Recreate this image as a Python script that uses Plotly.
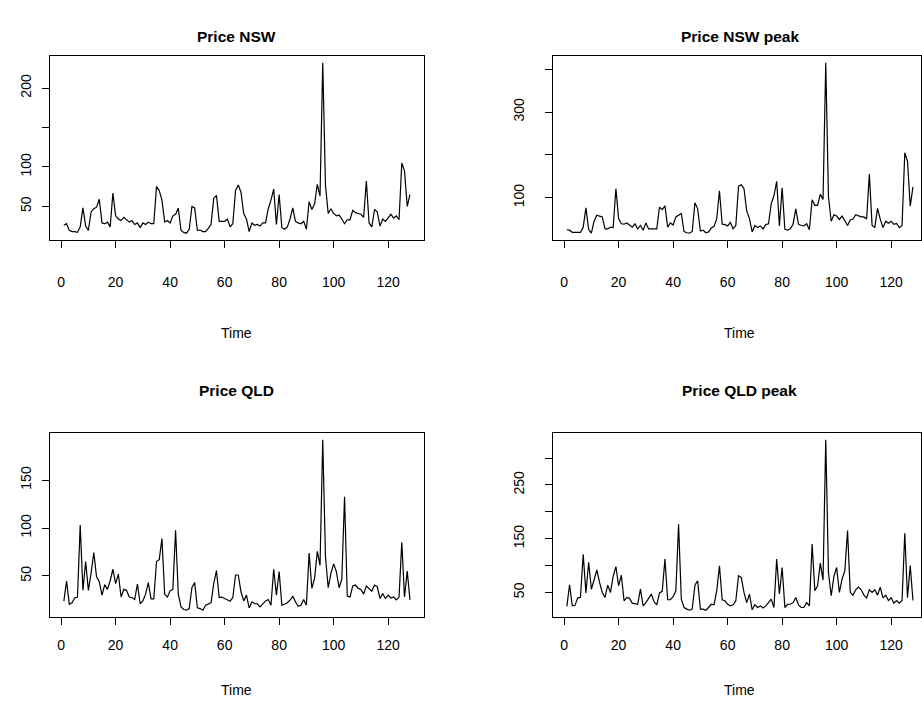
import plotly.graph_objects as go

W, H = 922, 704
time = list(range(1, 129))

price_nsw = [26, 28, 19.5, 18, 18, 17, 24, 48, 25, 19.5, 43, 47, 49, 59, 29, 28, 30, 24, 67, 38,
             34, 32, 36, 33, 30, 32, 27, 29, 23, 29, 27, 30, 28, 28, 75, 70, 58, 30, 32, 29,
             38, 40, 48, 19.5, 17, 16, 21, 50, 48, 19.5, 20, 18, 18, 22, 27, 60, 64, 31, 31, 31,
             34, 24, 28, 70, 77, 68, 41, 34, 18, 29, 26, 27, 25, 29, 29, 47, 58, 72, 27, 65,
             23, 21, 24, 34, 48, 31, 29, 28, 31, 21, 56, 46, 53, 78, 63, 232, 77, 41, 47, 41,
             38, 39, 34, 28, 33, 33, 45, 42, 41, 40, 36, 82, 29, 24, 46, 43, 25, 34, 31, 35,
             40, 35, 38, 33, 105, 95, 50, 65]

price_nsw_peak = [25, 24, 19, 19, 19, 19, 31, 76, 26, 17, 45, 59, 57, 55, 27, 27, 31, 30, 121, 51,
                  39, 38, 41, 35, 31, 39, 27, 35, 24, 41, 27, 27, 27, 27, 78, 72, 81, 31, 41, 36,
                  55, 59, 63, 21, 18, 17, 21, 88, 74, 22, 24, 18, 20, 29, 33, 51, 116, 38, 37, 34,
                  42, 27, 35, 127, 130, 121, 69, 51, 20, 35, 30, 34, 27, 37, 39, 86, 105, 138, 34, 123,
                  26, 24, 27, 38, 74, 38, 35, 34, 39, 25, 95, 82, 82, 108, 96, 415, 102, 45, 60, 57,
                  49, 57, 47, 35, 48, 50, 60, 58, 55, 55, 50, 155, 35, 30, 75, 50, 30, 45, 40, 45,
                  38, 40, 30, 35, 205, 185, 80, 125]

price_qld = [23.7, 44.7, 20.5, 22, 27, 28, 103, 35, 65, 35, 53, 74.5, 49, 44, 30, 41, 36, 45, 57, 42,
             52, 28, 36, 35, 28, 27.5, 25.5, 41.6, 21, 24, 31, 43, 26, 26, 65, 67, 89, 31, 28, 34.5,
             36, 97.7, 31, 17.7, 15, 14.3, 16, 38, 43, 16.7, 16, 14.3, 19.5, 21, 22, 42, 55.6, 27.5, 28, 26.5,
             24.7, 23.7, 27.5, 51, 51, 33.5, 24, 30, 16.7, 23, 21, 21, 17.7, 20.5, 24, 25.4, 19.5, 57, 30, 54.6,
             19.5, 20.5, 22, 24.7, 29, 23, 18.4, 19.5, 25.4, 19.5, 74, 37, 47.5, 75.6, 61, 192, 70, 37.7, 52.8, 62.6,
             54.6, 37.7, 46.8, 132.5, 29, 28, 39.5, 40.5, 37, 36, 31, 39.5, 37, 34, 40.5, 38.8, 26.5, 31.8, 26.5, 30,
             27, 28, 25, 28, 85, 28, 55, 25]

price_qld_peak = [24, 64, 25, 26, 40, 40.7, 121, 49, 106, 56, 73.6, 92, 68.6, 50, 40.7, 63.6, 50, 80, 98, 62.4,
                  82, 34.5, 40.7, 39, 30, 29.5, 28, 56, 25, 31, 39, 47, 32.6, 27, 49, 52, 112, 36.4, 36.4, 42,
                  53, 177, 37.6, 22, 19, 17, 19, 63.6, 71.7, 19, 19, 17, 22, 28, 27, 53, 99.6, 36.4, 34.5, 28,
                  25, 27, 34.5, 81, 78, 50, 31, 47, 17.7, 27, 22, 25, 21, 25, 31, 37.6, 22, 112, 47, 96.5,
                  22, 28, 28, 31, 40.7, 27, 22, 22, 31, 25, 140, 53, 62.4, 104.6, 73, 334, 87, 43.8, 80, 96.5,
                  50, 75, 90, 165, 50, 45, 55, 60, 55, 45, 40, 55, 50, 55, 45, 60, 40, 45, 35, 40,
                  30, 35, 30, 35, 160, 40, 100, 35]

titles = ["Price NSW", "Price NSW peak", "Price QLD", "Price QLD peak"]
series = [price_nsw, price_nsw_peak, price_qld, price_qld_peak]
x_ticks = [0, 20, 40, 60, 80, 100, 120]
y_tickvals = [[50, 100, 150, 200], [100, 200, 300, 400], [50, 100, 150], [50, 100, 150, 200, 250, 300]]
y_ticktext = [["50", "100", "", "200"], ["100", "", "300", ""], ["50", "100", "150"],
              ["50", "", "150", "", "250", ""]]

# full (unclipped) plot box width in px for the R-style x range [-4.08, 133.08]
BOX_W = 373.8
XR0, XR1 = 1 - 0.04 * 127, 128 + 0.04 * 127
# plot boxes in pixels (x0, x1, y_top, y_bottom); right column is cut at the page edge
boxes = [(50, 423.8, 56, 240), (553, 921, 56, 240), (50, 423.8, 433, 617), (553, 921, 433, 617)]
text_y = [(36, 277, 333), (36, 277, 333), (390, 640, 690), (390, 640, 690)]
ylab_x = [30, 523, 30, 523]

FONT = "Liberation Sans, Arial, Helvetica, sans-serif"
TICK = 14
fig = go.Figure()
annotations = []

def rng(vals):
    lo, hi = min(vals), max(vals)
    pad = 0.04 * (hi - lo)
    return [lo - pad, hi + pad]

for i, (title, ys, (x0, x1, yt, yb)) in enumerate(zip(titles, series, boxes)):
    k = i + 1
    xa = "xaxis" if k == 1 else f"xaxis{k}"
    ya = "yaxis" if k == 1 else f"yaxis{k}"
    xref = "x" if k == 1 else f"x{k}"
    yref = "y" if k == 1 else f"y{k}"
    ty, tky, tmy = text_y[i]
    fig.add_trace(go.Scatter(x=time, y=ys, mode="lines", line=dict(color="black", width=1.2),
                             xaxis=xref, yaxis=yref, showlegend=False, hoverinfo="skip"))
    ppu = BOX_W / (XR1 - XR0)
    xr = [XR0, XR0 + (x1 - x0) / ppu]
    x_standoff = max(0, (tky - yb) - 7 - 8)
    y_standoff = max(0, (x0 - ylab_x[i]) - 7 - 8)
    fig.update_layout({
        xa: dict(domain=[x0 / W, x1 / W], range=xr, anchor=yref, showgrid=False, zeroline=False,
                 showline=True, mirror=True, linecolor="black", linewidth=1,
                 ticks="outside", ticklen=7, tickcolor="black", tickwidth=1,
                 tickvals=x_ticks, ticktext=[str(v) for v in x_ticks],
                 tickfont=dict(family=FONT, size=TICK, color="black"), ticklabelstandoff=x_standoff),
        ya: dict(domain=[1 - yb / H, 1 - yt / H], range=rng(ys), anchor=xref, showgrid=False,
                 zeroline=False, showline=True, mirror=True, linecolor="black", linewidth=1,
                 ticks="outside", ticklen=7, tickcolor="black", tickwidth=1,
                 tickvals=y_tickvals[i], ticktext=y_ticktext[i], tickangle=-90,
                 tickfont=dict(family=FONT, size=TICK, color="black"), ticklabelstandoff=y_standoff),
    })
    cx = (x0 + x0 + BOX_W) / 2 / W
    annotations.append(dict(text=f"<b>{title}</b>", x=cx, y=1 - ty / H, xref="paper", yref="paper",
                            showarrow=False, xanchor="center", yanchor="middle",
                            font=dict(family=FONT, size=15.5, color="black")))
    annotations.append(dict(text="Time", x=cx, y=1 - tmy / H, xref="paper", yref="paper",
                            showarrow=False, xanchor="center", yanchor="middle",
                            font=dict(family=FONT, size=TICK, color="black")))

fig.update_layout(width=W, height=H, margin=dict(l=0, r=0, t=0, b=0),
                  paper_bgcolor="white", plot_bgcolor="white", annotations=annotations)
fig.write_html("out.html")
